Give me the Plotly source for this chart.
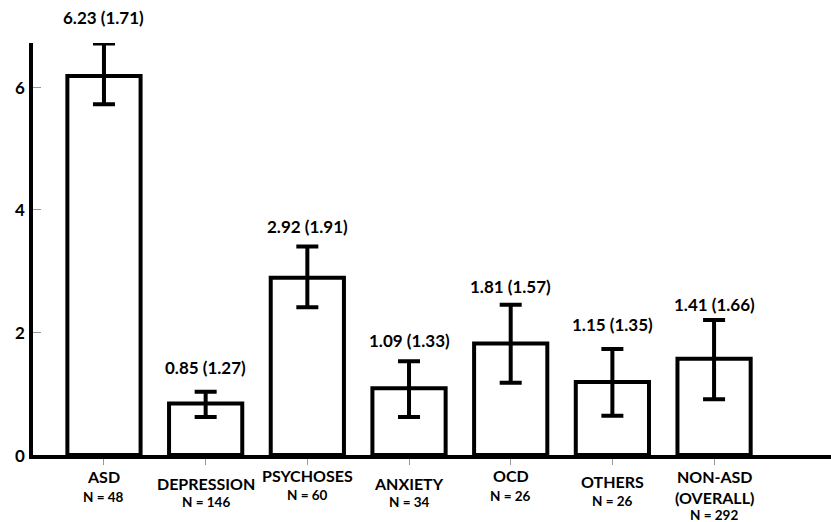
import plotly.graph_objects as go

# ---- data ----
categories = ["ASD", "DEPRESSION", "PSYCHOSES", "ANXIETY", "OCD", "OTHERS", "NON-ASD"]
cat_labels = ["ASD", "DEPRESSION", "PSYCHOSES", "ANXIETY", "OCD", "OTHERS", "NON-ASD<br>(OVERALL)"]
n_values = [48, 146, 60, 34, 26, 26, 292]
bar_heights = [6.18, 0.84, 2.89, 1.09, 1.82, 1.19, 1.57]
err_upper = [0.53, 0.19, 0.51, 0.44, 0.63, 0.54, 0.63]
err_lower = [0.46, 0.22, 0.48, 0.47, 0.64, 0.55, 0.66]
means = [6.23, 0.85, 2.92, 1.09, 1.81, 1.15, 1.41]
sds = [1.71, 1.27, 1.91, 1.33, 1.57, 1.35, 1.66]
y_ticks = [0, 2, 4, 6]

# ---- style (pixel offsets for labels) ----
value_label_shift = [26, 24, 20, 21, 18, 24, 16]
cat_label_shift = [21, 28, 20, 28, 20, 26, 32]
n_label_shift = [42, 47, 40, 47, 41, 46, 60]

FONT = "Lato"

fig = go.Figure()
fig.add_trace(go.Bar(
    x=categories,
    y=bar_heights,
    width=0.72,
    marker=dict(color="white", line=dict(color="black", width=4)),
    error_y=dict(type="data", symmetric=False, array=err_upper, arrayminus=err_lower,
                 color="black", thickness=4, width=11),
    showlegend=False,
    hoverinfo="skip",
))

for i, cat in enumerate(categories):
    top = bar_heights[i] + err_upper[i]
    fig.add_annotation(x=cat, y=top, xref="x", yref="y",
                       text=f"{means[i]:.2f} ({sds[i]:.2f})",
                       showarrow=False, yanchor="middle", yshift=value_label_shift[i],
                       font=dict(family=FONT, size=17, color="black", weight=700))
    fig.add_annotation(x=cat, y=0, xref="x", yref="y",
                       text=cat_labels[i],
                       showarrow=False, yanchor="middle", yshift=-cat_label_shift[i],
                       font=dict(family=FONT, size=16, color="black", weight=700))
    fig.add_annotation(x=cat, y=0, xref="x", yref="y",
                       text=f"N = {n_values[i]}",
                       showarrow=False, yanchor="middle", yshift=-n_label_shift[i],
                       font=dict(family=FONT, size=13.5, color="black", weight=700))

# y tick labels placed close to the axis line
for v in y_ticks:
    fig.add_annotation(x=0, y=v, xref="paper", yref="y", text=str(v),
                       showarrow=False, xanchor="right", yanchor="middle", xshift=-6,
                       font=dict(family=FONT, size=17, color="black", weight=700))

fig.update_layout(
    width=831, height=522,
    margin=dict(l=33, r=0, t=43, b=67),
    paper_bgcolor="white", plot_bgcolor="white",
)
fig.update_xaxes(
    range=[-0.698, 7.15], showline=True, linecolor="black", linewidth=4,
    ticks="outside", ticklen=6, tickcolor="#999", tickwidth=1,
    showticklabels=False, showgrid=False, zeroline=False,
)
fig.update_yaxes(
    range=[0, 6.72], showline=True, linecolor="black", linewidth=4,
    tickvals=y_ticks,
    ticks="inside", ticklen=8, tickcolor="#999", tickwidth=1,
    showticklabels=False,
    showgrid=False, zeroline=False,
)

fig.write_html("out.html",
               config={"displayModeBar": False},
               post_script="document.body.style.margin='0';document.body.style.overflow='hidden';")
